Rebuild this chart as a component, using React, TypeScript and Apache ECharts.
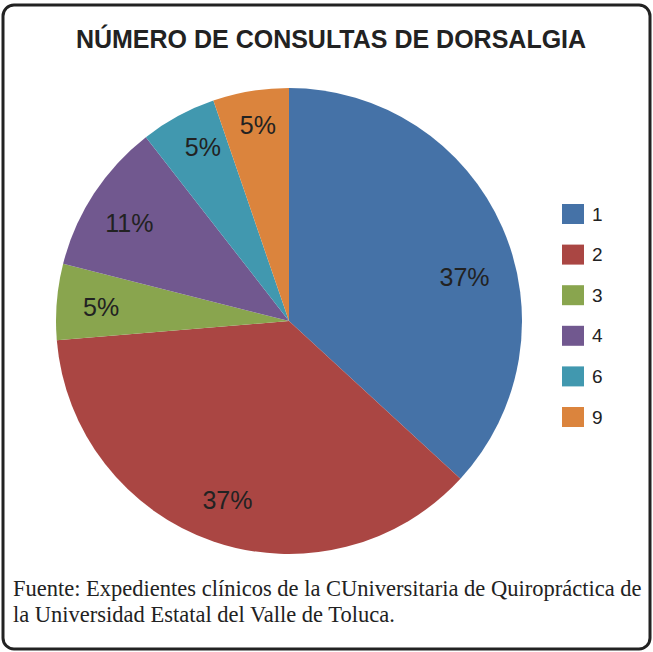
import React, { useEffect, useRef } from "react";
import * as echarts from "echarts";

const categories = ["1", "2", "3", "4", "6", "9"];
const counts = [7, 7, 1, 2, 1, 1];
const colors = ["#4572A7", "#AA4643", "#89A54E", "#71588F", "#4198AF", "#DB843D"];
const titleText = "NÚMERO DE CONSULTAS DE DORSALGIA";
const footerLines = [
  "Fuente: Expedientes clínicos de la CUniversitaria de Quiropráctica de",
  "la Universidad Estatal del Valle de Toluca.",
];
// small nudges of the percentage labels (Excel "best fit" placement)
const labelNudges = [
  [2, 32],
  [0, 0],
  [1, 2],
  [-1, 6],
  [4, -7],
  [0, -9],
];

export default function App() {
  const ref = useRef<HTMLDivElement>(null);
  useEffect(() => {
    if (!ref.current) return;
    const chart = echarts.init(ref.current, null, { renderer: "svg" });
    const data = categories.map((c, i) => ({ name: c, value: counts[i] }));
    chart.setOption({
      animation: false,
      backgroundColor: "#fff",
      color: colors,
      legend: {
        orient: "vertical",
        left: 557,
        top: 199,
        itemWidth: 22,
        itemHeight: 20,
        itemGap: 20.6,
        icon: "rect",
        data: categories,
        selectedMode: false,
        textStyle: {
          fontFamily: "Liberation Sans",
          fontSize: 19,
          color: "#222",
          padding: [0, 0, 0, 3],
        },
      },
      graphic: [
        {
          type: "rect",
          shape: { x: 3, y: 5, width: 647, height: 644, r: 11 },
          style: { fill: "none", stroke: "#222", lineWidth: 3 },
          silent: true,
          z: 10,
        },
        {
          type: "text",
          x: 331,
          y: 26,
          style: {
            text: titleText,
            fill: "#222",
            font: "bold 25px 'Liberation Sans'",
            textAlign: "center",
            textVerticalAlign: "top",
          },
        },
        ...footerLines.map((t, i) => ({
          type: "text",
          x: 13,
          y: 577 + i * 26,
          style: {
            text: t,
            fill: "#222",
            font: "22.5px 'Liberation Serif'",
          },
        })),
      ],
      series: [
        {
          type: "pie",
          center: [289, 321],
          radius: [0, 233],
          startAngle: 90,
          clockwise: true,
          data,
          label: { show: false },
          labelLine: { show: false },
          itemStyle: { borderWidth: 0 },
          silent: true,
        },
        {
          type: "pie",
          center: [289, 321],
          radius: [140, 233],
          startAngle: 90,
          clockwise: true,
          data,
          silent: true,
          itemStyle: { color: "transparent", borderWidth: 0 },
          labelLine: { show: false },
          label: {
            show: true,
            position: "inside",
            fontFamily: "Liberation Sans",
            fontSize: 25,
            color: "#222",
            formatter: (p: any) => Math.round(p.percent) + "%",
          },
          labelLayout: (p: any) => ({
            dx: labelNudges[p.dataIndex][0],
            dy: labelNudges[p.dataIndex][1],
          }),
        },
      ],
    });
    return () => chart.dispose();
  }, []);
  return (
    <div
      ref={ref}
      style={{ position: "absolute", left: 0, top: 0, width: 653, height: 652 }}
    />
  );
}
